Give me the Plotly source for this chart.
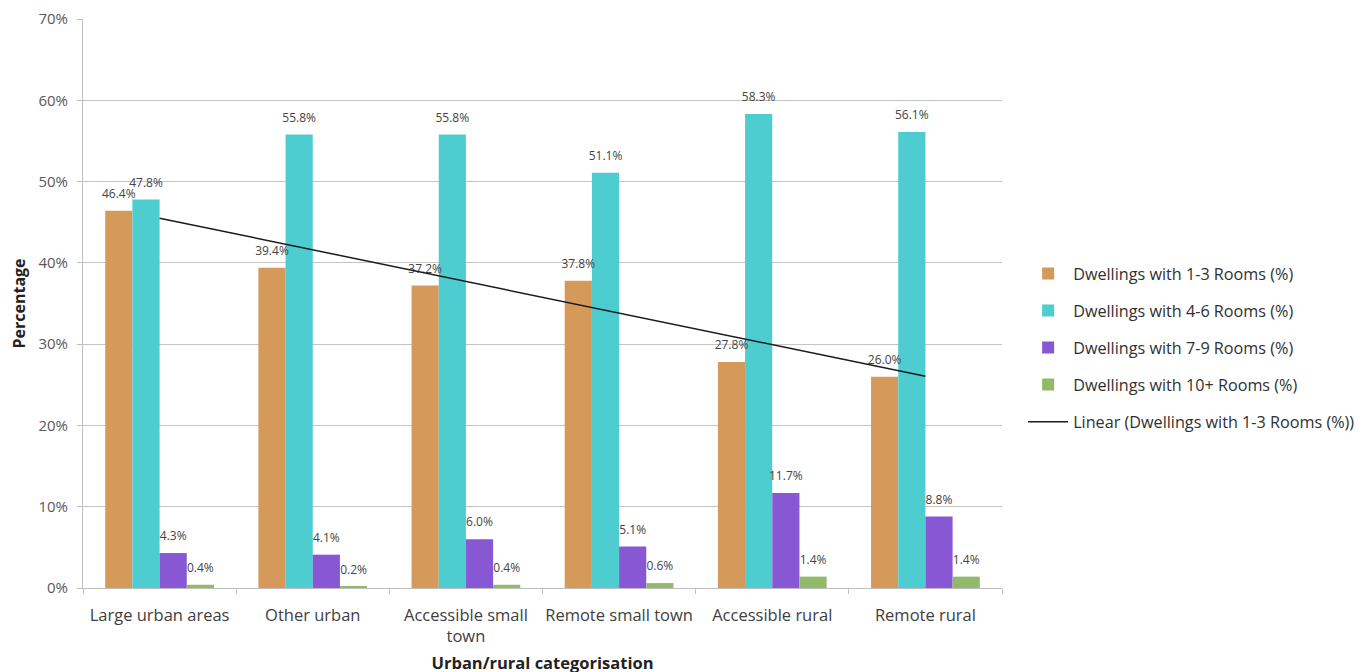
import numpy as np
import plotly.graph_objects as go

categories = ["Large urban areas", "Other urban", "Accessible small<br>town",
              "Remote small town", "Accessible rural", "Remote rural"]
rooms_1_3 = [46.4, 39.4, 37.2, 37.8, 27.8, 26.0]
rooms_4_6 = [47.8, 55.8, 55.8, 51.1, 58.3, 56.1]
rooms_7_9 = [4.3, 4.1, 6.0, 5.1, 11.7, 8.8]
rooms_10p = [0.4, 0.2, 0.4, 0.6, 1.4, 1.4]

series = [
    ("Dwellings with 1-3 Rooms (%)", rooms_1_3, "#D59A5A"),
    ("Dwellings with 4-6 Rooms (%)", rooms_4_6, "#4ECDD1"),
    ("Dwellings with 7-9 Rooms (%)", rooms_7_9, "#8858D4"),
    ("Dwellings with 10+ Rooms (%)", rooms_10p, "#92B86A"),
]

FONT = "Open Sans, DejaVu Sans, sans-serif"
GAP = 0.29
fig = go.Figure()
for i, (name, vals, col) in enumerate(series):
    fig.add_trace(go.Bar(
        x=categories, y=vals, name=name, marker=dict(color=col, line=dict(width=0)),
        offsetgroup=f"g{i}", legendgroup=f"g{i}",
    ))
for i, (name, vals, col) in enumerate(series):
    fig.add_trace(go.Scatter(
        x=categories, y=vals, mode="markers+text", offsetgroup=f"g{i}",
        text=[f"{v:.1f}%" for v in vals], textposition="top center",
        marker=dict(size=14, color="rgba(0,0,0,0)"), cliponaxis=False,
        textfont=dict(size=12, color="#444444", family=FONT),
        showlegend=False, hoverinfo="skip",
    ))

xi = np.arange(1, len(rooms_1_3) + 1)
slope, intercept = np.polyfit(xi, rooms_1_3, 1)
trend = slope * xi + intercept
fig.add_trace(go.Scatter(
    x=categories, y=trend, mode="lines", name="Linear (Dwellings with 1-3 Rooms (%))",
    line=dict(color="#1a1a1a", width=1.5), legendgroup="g4", cliponaxis=False,
    xaxis="x2",
))

xr = [-0.5, len(categories) - 0.5]
fig.update_layout(
    width=1369, height=672,
    margin=dict(l=75, r=375, t=11, b=92, autoexpand=False),
    paper_bgcolor="white", plot_bgcolor="white",
    barmode="group", bargap=GAP, bargroupgap=0,
    scattermode="group", scattergap=GAP,
    font=dict(family=FONT, size=16, color="#404040"),
    showlegend=True,
    legend=dict(x=1.023, y=0.422, xanchor="left", yanchor="middle",
                font=dict(size=16.2, color="#303030"), tracegroupgap=13,
                itemwidth=40, bgcolor="rgba(0,0,0,0)"),
    xaxis=dict(
        type="category", categoryorder="array", categoryarray=categories, range=xr,
        title=dict(text="<b>Urban/rural categorisation</b>", font=dict(size=16.5, color="#222"), standoff=11),
        showline=True, linecolor="#bfbfbf", linewidth=1,
        ticks="outside", tickson="boundaries", ticklen=5, tickcolor="#bfbfbf",
        tickfont=dict(size=16.5, color="#404040"), ticklabelstandoff=12, tickangle=0,
        automargin=False,
    ),
    xaxis2=dict(overlaying="x", visible=False, type="category", categoryorder="array",
                categoryarray=categories, range=xr),
    yaxis=dict(
        title=dict(text="<b>Percentage</b>", font=dict(size=16, color="#222"), standoff=17),
        range=[0, 70], dtick=10, ticksuffix="%",
        showgrid=True, gridcolor="#c4c4c4", gridwidth=1,
        showline=True, linecolor="#bfbfbf", linewidth=1,
        ticks="outside", ticklen=5, tickcolor="#bfbfbf",
        tickfont=dict(size=15, color="#595959"), zeroline=False,
        ticklabelstandoff=6, automargin=False,
    ),
)

fig.write_html("out.html")
